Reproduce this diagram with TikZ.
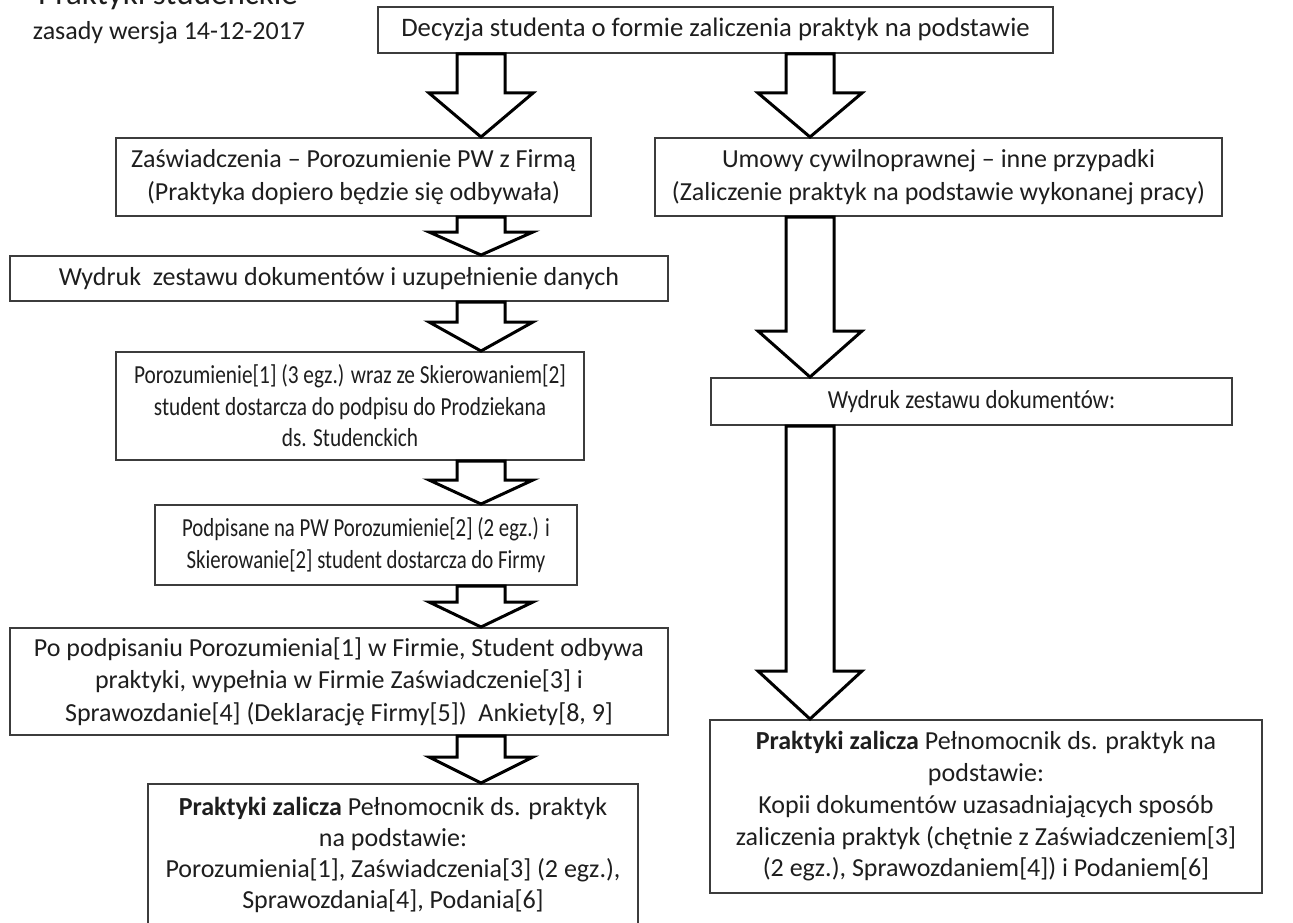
\documentclass[tikz,border=0pt]{standalone}
\usepackage{fontspec}
\setmainfont{Carlito}
\newfontfamily\condA[FakeStretch=0.82]{Carlito}
\newfontfamily\condB[FakeStretch=0.80]{Carlito}
\newfontfamily\condC[FakeStretch=0.88]{Carlito}
\usetikzlibrary{calc}
\definecolor{boxc}{RGB}{60,60,60}
\definecolor{txtc}{RGB}{30,30,30}
\tikzset{
  fnt/.style 2 args={font=\fontsize{#1}{#2}\selectfont},
  box/.style={draw=boxc, line width=2pt, fill=white, align=center, inner sep=0pt,
    text=txtc, fnt={26}{32}},
  plain/.style={align=center, inner sep=0pt, text=txtc, fnt={26}{32}},
  bigarrow/.style={draw=black, line width=3pt, fill=white, line join=miter},
}
\newcommand{\blockarrow}[4]{%
  \draw[bigarrow] ($(#2.south -| #1)+(-24,0)$) -- ($(#3.north -| #1)+(-24,-#4)$)
    -- ($(#3.north -| #1)+(-52,-#4)$) -- (#3.north -| #1)
    -- ($(#3.north -| #1)+(52,-#4)$) -- ($(#3.north -| #1)+(24,-#4)$)
    -- ($(#2.south -| #1)+(24,0)$) -- cycle;}
\begin{document}
\begin{tikzpicture}[x=1pt, y=-1pt]
\useasboundingbox (0,0) rectangle (1293,923);
\fill[white] (0,0) rectangle (1293,923);
\clip (0,0) rectangle (1293,923);

\coordinate (cL) at (481,0);
\coordinate (cR) at (810,0);

% titles
\node[plain, anchor=base, fnt={33}{36}] (t1) at (168,5) {Praktyki studenckie};
\node[plain, anchor=base] (t2) at (169,40) {zasady wersja 14-12-2017};

% left column
\node[box, fnt={26.7}{32}, minimum width=675pt, minimum height=46pt] (b1) at (715.5,30)
  {Decyzja studenta o formie zaliczenia praktyk na podstawie};
\node[box, fnt={26}{33}, minimum width=475pt, minimum height=78pt] (b2l) at (353.5,177)
  {Zaświadczenia – Porozumienie PW z Firmą\\(Praktyka dopiero będzie się odbywała)};
\node[box, fnt={26}{33}, minimum width=567pt, minimum height=78pt] (b2r) at (938.5,177)
  {Umowy cywilnoprawnej – inne przypadki\\(Zaliczenie praktyk na podstawie wykonanej pracy)};
\node[box, minimum width=658pt, minimum height=45pt] (b3) at (339,278.5)
  {Wydruk\ \ zestawu dokumentów i uzupełnienie danych};
\node[box, font={\condA\fontsize{26}{31.5}\selectfont}, minimum width=468pt, minimum height=108pt] (b4) at (350,406)
  {Porozumienie[1] (3 egz.) wraz ze Skierowaniem[2]\\student dostarcza do podpisu do Prodziekana\\ds. Studenckich};
\node[box, font={\condB\fontsize{26}{32}\selectfont}, minimum width=422pt, minimum height=80pt] (b5) at (366,545)
  {Podpisane na PW Porozumienie[2] (2 egz.) i\\Skierowanie[2] student dostarcza do Firmy};
\node[box, fnt={26}{32.5}, minimum width=658pt, minimum height=107pt] (b6) at (339,681.5)
  {Po podpisaniu Porozumienia[1] w Firmie, Student odbywa\\praktyki, wypełnia w Firmie Zaświadczenie[3] i\\Sprawozdanie[4] (Deklarację Firmy[5])\ \ Ankiety[8, 9]};
\node[box, anchor=north, minimum width=490pt, minimum height=170pt] (b7) at (393,783) {};
\node[plain, fnt={26}{31.3}] (b7t) at (393,855)
  {\textbf{Praktyki zalicza} Pełnomocnik ds. praktyk\\na podstawie:\\Porozumienia[1], Zaświadczenia[3] (2 egz.),\\Sprawozdania[4], Podania[6]};

% right column
\node[box, font={\condC\fontsize{26}{30}\selectfont}, minimum width=521pt, minimum height=47pt] (r3) at (971.5,401.5)
  {Wydruk zestawu dokumentów:};
\node[box, fnt={26}{31.8}, minimum width=552pt, minimum height=173pt] (r4) at (986,806.5)
  {\textbf{Praktyki zalicza} Pełnomocnik ds. praktyk na\\podstawie:\\Kopii dokumentów uzasadniających sposób\\zaliczenia praktyk (chętnie z Zaświadczeniem[3]\\(2 egz.), Sprawozdaniem[4]) i Podaniem[6]};

% block arrows
\blockarrow{cL}{b1}{b2l}{44}
\blockarrow{cR}{b1}{b2r}{44}
\blockarrow{cL}{b2l}{b3}{23}
\blockarrow{cL}{b3}{b4}{29}
\blockarrow{cL}{b4}{b5}{24}
\blockarrow{cL}{b5}{b6}{25}
\blockarrow{cL}{b6}{b7}{26}
\blockarrow{cR}{b2r}{r3}{46}
\blockarrow{cR}{r3}{r4}{48}
\end{tikzpicture}
\end{document}
